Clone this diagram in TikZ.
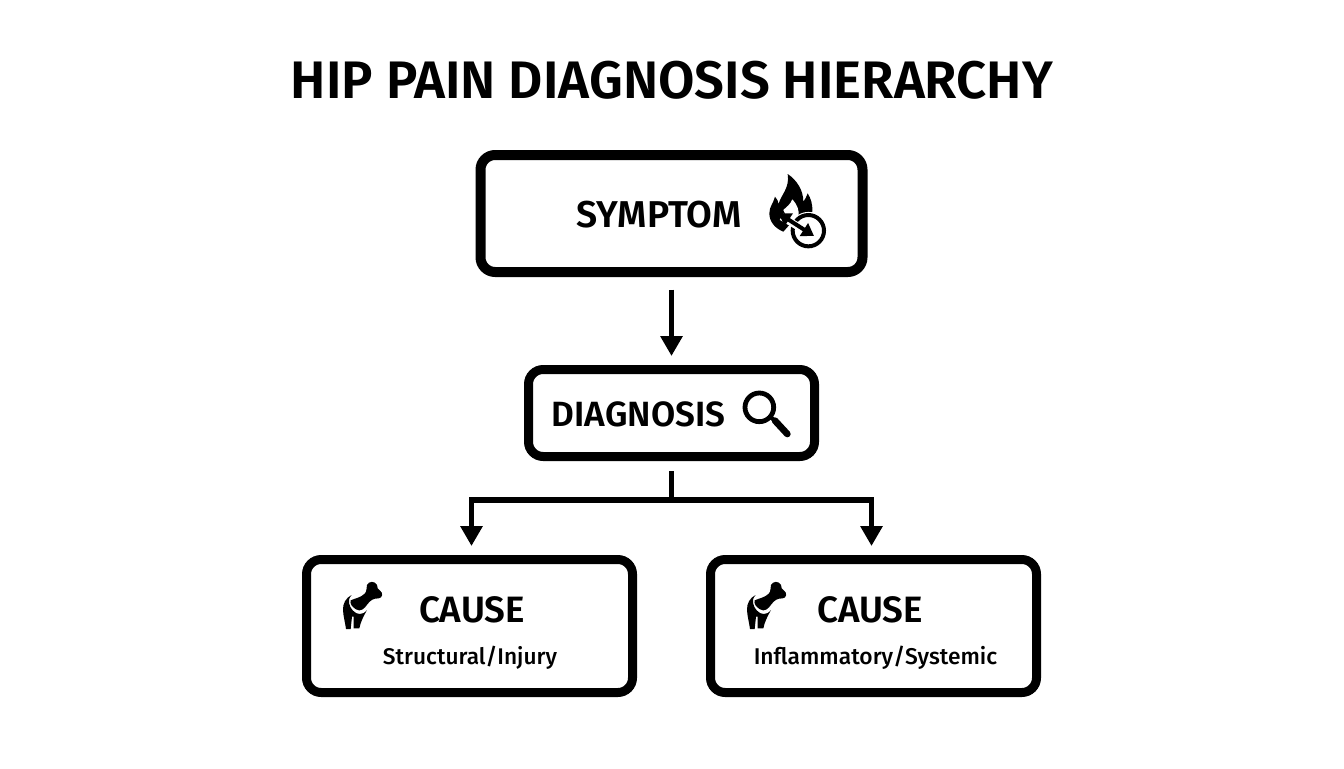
\documentclass[tikz,border=0pt]{standalone}
\usepackage{fontspec}
\setmainfont{Fira Sans}
\newfontfamily\headfont{Fira Sans SemiBold}
\newfontfamily\subfont{Fira Sans Medium}
\usetikzlibrary{arrows.meta}
\tikzset{
  box/.style={draw=black,fill=white,rounded corners=11pt,line width=#1,inner sep=0pt},
  link/.style={line width=3.9pt,-{Triangle[width=16pt,length=15pt]}},
  caption/.style={text=black,inner sep=0pt,anchor=center},
}
% hip joint icon, #1 is the left edge of the crop
\newcommand{\boneicon}[1]{
  \begin{scope}[shift={(#1,565)},x=.25pt,y=-.25pt]
    \fill (95,90) .. controls (78,98) and (68,115) .. (69,135) .. controls (70,155) and (76,175) .. (78,192)
      -- (92,192) -- (96,155) -- (101,155) -- (101,190) -- (118,190) .. controls (122,170) and (130,155) .. (141,135)
      .. controls (128,152) and (110,150) .. (98,136) .. controls (88,125) and (80,105) .. (95,90) -- cycle;
    \fill (92,106) .. controls (105,100) and (122,98) .. (134,86) .. controls (142,78) and (138,68) .. (141,60)
      .. controls (146,48) and (165,47) .. (171,60) .. controls (173,68) and (172,74) .. (180,77)
      .. controls (190,82) and (188,100) .. (176,100) .. controls (160,100) and (152,105) .. (142,118)
      .. controls (134,130) and (122,142) .. (108,133) .. controls (98,127) and (88,116) .. (92,106) -- cycle;
  \end{scope}
}
\begin{document}
\begin{tikzpicture}[x=.75pt,y=-.75pt]
  \useasboundingbox (0,0) rectangle (1344,768);
  \node[caption,font=\headfont\fontsize{39.6}{40}\selectfont] (title) at (672,80) {HIP PAIN DIAGNOSIS HIERARCHY};

  \node[box=7.5pt,minimum width=286.5pt,minimum height=87.75pt] (symptom) at (671.5,213.5) {};
  \node[box=6.75pt,minimum width=214.5pt,minimum height=65.25pt] (diagnosis) at (671.5,413) {};
  \node[box=6.75pt,minimum width=244.5pt,minimum height=99.75pt] (causeL) at (469.5,626) {};
  \node[box=6.75pt,minimum width=244.5pt,minimum height=99.75pt] (causeR) at (873.5,626) {};

  \node[caption,font=\headfont\fontsize{28}{28}\selectfont] (symptomText) at (659,215) {SYMPTOM};
  \node[caption,font=\headfont\fontsize{26.3}{27}\selectfont] (diagnosisText) at (638.5,414) {DIAGNOSIS};
  \node[caption,font=\headfont\fontsize{27.5}{28}\selectfont] (causeLText) at (472,610) {CAUSE};
  \node[caption,font=\headfont\fontsize{27.5}{28}\selectfont] (causeRText) at (870,610) {CAUSE};
  \node[caption,font=\subfont\fontsize{17}{17}\selectfont] (structural) at (470,658) {Structural/Injury};
  \node[caption,font=\subfont\fontsize{17.1}{17}\selectfont] (inflammatory) at (875.5,658) {Inflammatory/Systemic};

  % connectors
  \draw[link,shorten <=9.5pt,shorten >=6.75pt] (symptom.south) -- (diagnosis.north);
  \coordinate (fork) at (671.5,500);
  \coordinate (forkL) at (471.5,555);
  \coordinate (forkR) at (871.5,555);
  \draw[line width=3.9pt,shorten <=7.5pt] (diagnosis.south) -- (fork);
  \draw[link,shorten >=6.75pt] (fork) -| (forkL);
  \draw[link,shorten >=6.75pt] (fork) -| (forkR);

  % flame and clock
  \begin{scope}[shift={(740,160)},x=.25pt,y=-.25pt]
    \fill (130,215) .. controls (105,205) and (88,185) .. (88,160) .. controls (88,140) and (100,130) .. (105,110)
      .. controls (112,118) and (115,125) .. (116,132) .. controls (122,105) and (150,85) .. (143,42)
      .. controls (170,60) and (190,90) .. (190,125) .. controls (195,118) and (200,110) .. (203,100)
      .. controls (212,115) and (218,130) .. (217,155) -- (170,170) -- cycle;
    \fill[white] (130,150) .. controls (140,140) and (150,135) .. (157,118) .. controls (172,135) and (178,150) .. (176,172) -- (150,190) -- cycle;
    \draw[white,line width=4.6pt] (205,212) circle (47);
    \draw[line width=3pt] (205,212) circle (47);
    \draw[white,line width=5.6pt] (125,170) -- (212,222);
    \draw[line width=3pt,{Triangle[width=11pt,length=9pt]}-{Triangle[width=11pt,length=9pt]}] (116,160) -- (222,228);
  \end{scope}

  % magnifier
  \begin{scope}[shift={(730,380)},x=.25pt,y=-.25pt]
    \draw[line width=3.6pt] (88,82) circle (43);
    \draw[line width=3pt] (122,112) -- (135,122);
    \draw[line width=5pt,line cap=round] (135,122) -- (172,162);
  \end{scope}

  \boneicon{320}
  \boneicon{724}
\end{tikzpicture}
\end{document}
